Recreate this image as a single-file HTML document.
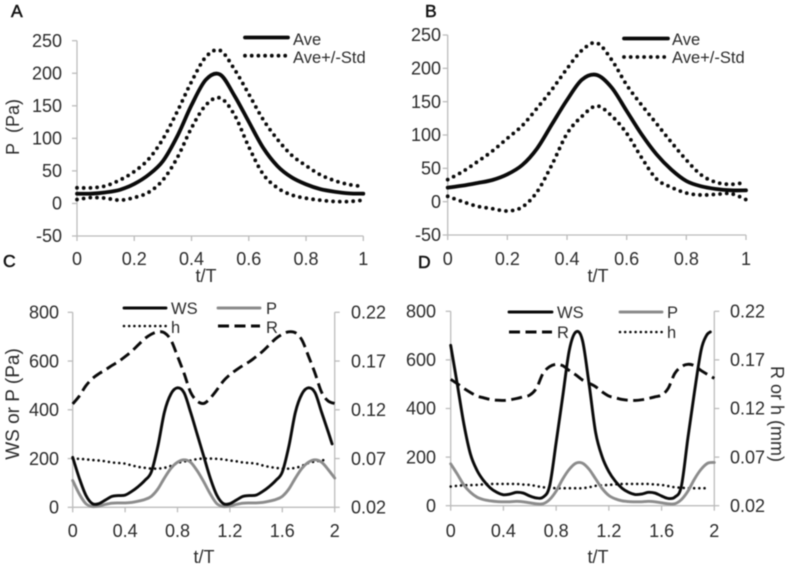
<!DOCTYPE html>
<html>
<head>
<meta charset="utf-8">
<title>Pressure, wall shear stress, radius and height over t/T</title>
<style>
html,body{margin:0;padding:0;background:#fff;width:789px;height:568px;overflow:hidden}
svg{display:block;filter:blur(0.45px)}
text{font-family:"Liberation Sans",sans-serif;fill:#2b2b2b}
</style>
</head>
<body>
<svg id="fig" xmlns="http://www.w3.org/2000/svg" width="789" height="568" viewBox="0 0 789 568"></svg>
<script>
const tOne=[0,0.05,0.1,0.15,0.2,0.25,0.3,0.35,0.4,0.45,0.5,0.55,0.6,0.65,0.7,0.75,0.8,0.85,0.9,0.95,1];
const tTwo=[0,0.05,0.1,0.15,0.2,0.25,0.3,0.35,0.4,0.45,0.5,0.55,0.6,0.65,0.7,0.75,0.8,0.85,0.9,0.95,1,1.05,1.1,1.15,1.2,1.25,1.3,1.35,1.4,1.45,1.5,1.55,1.6,1.65,1.7,1.75,1.8,1.85,1.9,1.95,2];
const tTwoWsC=[0,0.05,0.1,0.15,0.2,0.25,0.3,0.35,0.4,0.45,0.5,0.55,0.6,0.65,0.7,0.75,0.8,0.85,0.9,0.95,1,1.05,1.1,1.15,1.2,1.25,1.3,1.35,1.4,1.45,1.5,1.55,1.6,1.65,1.7,1.75,1.8,1.85,1.9,1.95,1.98];
const tTwoWsD=[0,0.05,0.1,0.15,0.2,0.25,0.3,0.35,0.4,0.45,0.5,0.55,0.6,0.65,0.7,0.75,0.8,0.85,0.9,0.95,1,1.05,1.1,1.15,1.2,1.25,1.3,1.35,1.4,1.45,1.5,1.55,1.6,1.65,1.7,1.75,1.8,1.85,1.9,1.94,1.97];

const aAve=[15,15,17,21,30,44,65,103,151,190,198,165.5,125.5,85.6,57.5,40,29.4,22,18,15.5,15];
const aUpper=[24,24,27,36,49,68,99,141,187,225,235,206,168,129,98.5,74,58,44,35,29,26];
const aLower=[6,9,8,5,9,17,36,70,116,151,162,136,87,45,24,13,8,5,3,3,5];

const bAve=[21,24,28,32.5,41,55,80,116.5,152.5,183,190,171,136,101,71,48,31,23,19,17,17];
const bUpper=[33,45,60,76,95,114,140.5,168.5,199.5,227,238,212.5,175,145,117,89,62.5,40,29,26,29];
const bLower=[8,0,-7,-10.5,-14,-8,15,56,102,128,143.5,128.5,102.5,66,34,21.5,13,10,11,12,3];

const cWs=[205,120,50,15,15,30,45,48,50,65,85,110,145,250,390,465,490,470,390,300,210,120,50,15,15,30,45,48,50,65,85,110,145,250,390,465,490,470,390,310,260];
const cP=[110,55,15,3,5,12,17,18,18,20,25,32,45,75,120,160,185,195,185,150,105,55,15,3,5,12,17,18,18,20,25,32,45,75,120,160,185,195,185,155,120];
const cH=[0.07,0.0697,0.0692,0.0685,0.068,0.0672,0.066,0.0655,0.0648,0.063,0.0615,0.0605,0.0597,0.0597,0.0605,0.0625,0.0655,0.067,0.068,0.0695,0.07,0.07,0.0697,0.0692,0.068,0.0672,0.066,0.0655,0.0648,0.063,0.0615,0.0605,0.0597,0.0597,0.0605,0.0625,0.0655,0.067,0.068,0.0695];
const cR=[0.126,0.134,0.1445,0.152,0.157,0.161,0.1655,0.1695,0.1745,0.18,0.1865,0.193,0.1975,0.2,0.199,0.1915,0.175,0.1575,0.138,0.129,0.1265,0.132,0.1403,0.1495,0.156,0.161,0.1655,0.1695,0.1745,0.18,0.1865,0.193,0.1975,0.2,0.199,0.1915,0.175,0.1575,0.138,0.129,0.1265];

const dWs=[660,500,336,212,145,103,73,55,45,48,55,52,40,32,35,80,260,450,640,715,680,500,300,200,140,100,72,55,46,48,55,52,40,30,35,80,280,470,640,700,715];
const dP=[172,130,85,55,35,25,20,17,16,16,18,16,12,8,8,25,60,110,150,175,175,150,110,70,42,28,20,17,16,16,18,16,12,8,8,25,60,110,150,175,178];
const dH=[0.0397,0.0405,0.041,0.0412,0.0414,0.042,0.0424,0.0424,0.0424,0.0424,0.0424,0.0418,0.0414,0.0402,0.039,0.0385,0.038,0.038,0.038,0.038,0.038,0.039,0.0405,0.041,0.0414,0.042,0.0424,0.0424,0.0424,0.0424,0.0424,0.0418,0.0414,0.0402,0.039,0.0385,0.038,0.038,0.038,0.038];
const dR=[0.15,0.1455,0.1407,0.1365,0.1328,0.131,0.1293,0.1285,0.1283,0.129,0.1303,0.132,0.1338,0.1407,0.156,0.163,0.1655,0.164,0.159,0.1545,0.1493,0.146,0.1424,0.137,0.1328,0.131,0.1293,0.1285,0.1283,0.129,0.1303,0.132,0.1338,0.1407,0.156,0.163,0.1655,0.164,0.159,0.155,0.151];

const xTicksOne=["0","0.2","0.4","0.6","0.8","1"];
const xTicksTwo=["0","0.4","0.8","1.2","1.6","2"];
const yTicksP=["-50","0","50","100","150","200","250"];
const yTicksWs=["0","200","400","600","800"];
const yTicksR=["0.02","0.07","0.12","0.17","0.22"];

const NS='http://www.w3.org/2000/svg';
const fig=document.getElementById('fig');
const AXIS='#bcbcbc',INK='#0a0a0a',GREY='#8c8c8c';

function mk(tag,attrs,parent){
  const e=document.createElementNS(NS,tag);
  for(const k in attrs)e.setAttribute(k,attrs[k]);
  (parent||fig).appendChild(e);
  return e;
}
function linear(d0,d1,r0,r1){return v=>r0+(v-d0)*(r1-r0)/(d1-d0);}
function smooth(xs,ys){
  let d='M'+xs[0].toFixed(2)+' '+ys[0].toFixed(2);
  for(let i=0;i<xs.length-1;i++){
    const p0=i>0?i-1:i,p3=i+2<xs.length?i+2:i+1;
    const c1x=xs[i]+(xs[i+1]-xs[p0])/6,c1y=ys[i]+(ys[i+1]-ys[p0])/6;
    const c2x=xs[i+1]-(xs[p3]-xs[i])/6,c2y=ys[i+1]-(ys[p3]-ys[i])/6;
    d+='C'+c1x.toFixed(2)+' '+c1y.toFixed(2)+' '+c2x.toFixed(2)+' '+c2y.toFixed(2)+' '+xs[i+1].toFixed(2)+' '+ys[i+1].toFixed(2);
  }
  return d;
}
const STYLES={
  thick:{stroke:INK,'stroke-width':3.8,fill:'none','stroke-linecap':'round','stroke-linejoin':'round'},
  dots:{stroke:INK,'stroke-width':3.8,fill:'none','stroke-linecap':'round','stroke-dasharray':'0 6.7'},
  solid:{stroke:INK,'stroke-width':2.9,fill:'none','stroke-linecap':'round','stroke-linejoin':'round'},
  grey:{stroke:GREY,'stroke-width':2.9,fill:'none','stroke-linecap':'round','stroke-linejoin':'round'},
  fine:{stroke:INK,'stroke-width':2.6,fill:'none','stroke-linecap':'round','stroke-dasharray':'0 5.2'},
  dash:{stroke:INK,'stroke-width':2.9,fill:'none','stroke-dasharray':'11 5.5'}
};
function series(g,ts,vals,sx,sy,style,name){
  const p=mk('path',Object.assign({d:smooth(ts.map(sx),vals.map(sy))},STYLES[style]),g);
  
  
}
function legendItem(g,x0,x1,y,tx,ty,style,label,name){
  const l=mk('line',Object.assign({x1:x0,x2:x1,y1:y,y2:y},STYLES[style]),g);
  
  
  const t=mk('text',{x:tx,y:ty,'font-size':16.5},g);
  t.textContent=label;
  
  
}
function panelLetter(x,y,s){
  const t=mk('text',{x:x,y:y,'font-size':17.5,'style':'fill:#111','stroke':'#111','stroke-width':0.5});
  t.textContent=s;
  
  
}
function frame(g,o){
  const L=o.left,R=o.right,T=o.top,B=o.bottom;
  const ya=mk('line',{x1:L,x2:L,y1:T,y2:B,stroke:AXIS,'stroke-width':1.3},g);
  
  
  const xa=mk('line',{x1:L,x2:R,y1:B,y2:B,stroke:AXIS,'stroke-width':1.3},g);
  
  
  o.xTicks.forEach((lab,i)=>{
    const x=L+(R-L)*i/(o.xTicks.length-1);
    const tk=mk('line',{x1:x,x2:x,y1:B,y2:B+5,stroke:AXIS,'stroke-width':1.3},g);
    
    
    const t=mk('text',{x:x,y:o.xLabelY,'font-size':18,'text-anchor':'middle'},g);
    t.textContent=lab;
    
    
  });
  o.yTicks.forEach((lab,i)=>{
    const y=B-(B-T)*i/(o.yTicks.length-1);
    const tk=mk('line',{x1:L-5,x2:L,y1:y,y2:y,stroke:AXIS,'stroke-width':1.3},g);
    
    
    const t=mk('text',{x:o.yLabelX,y:y+6.2,'font-size':18,'text-anchor':'end'},g);
    t.textContent=lab;
    
    
  });
  if(o.rTicks){
    const ra=mk('line',{x1:R,x2:R,y1:T,y2:B,stroke:AXIS,'stroke-width':1.3},g);
    
    
    o.rTicks.forEach((lab,i)=>{
      const y=B-(B-T)*i/(o.rTicks.length-1);
      const tk=mk('line',{x1:R,x2:R+5,y1:y,y2:y,stroke:AXIS,'stroke-width':1.3},g);
      
      
      const t=mk('text',{x:o.rLabelX,y:y+6.2,'font-size':18},g);
      t.textContent=lab;
      
      
    });
  }
  const xt=mk('text',{x:o.xTitleX,y:o.xTitleY,'font-size':18,'text-anchor':'middle'},g);
  xt.textContent='t/T';
  
  
}
function rotated(g,x,y,deg,s,name,size){
  const t=mk('text',{x:0,y:0,'font-size':size,'text-anchor':'middle',transform:'translate('+x+' '+y+') rotate('+deg+')'},g);
  t.textContent=s;
  
  
}

/* Panel A */
const gA=mk('g',{});


frame(gA,{left:77,right:363.3,top:40.7,bottom:236,xTicks:xTicksOne,yTicks:yTicksP,xLabelY:265,yLabelX:62,xTitleX:206,xTitleY:282});
rotated(gA,19,127,-90,'P\u00a0\u00a0(Pa)','y-axis-title',18);
const axA=linear(0,1,77,363.3),ayA=linear(-50,250,236,40.7);
series(gA,tOne,aAve,axA,ayA,'thick','series-ave');
series(gA,tOne,aUpper,axA,ayA,'dots','series-ave-plus-std');
series(gA,tOne,aLower,axA,ayA,'dots','series-ave-minus-std');
legendItem(gA,245,288,37.5,293,45,'thick','Ave','ave');
legendItem(gA,245,288,55.7,293,63,'dots','Ave+/-Std','ave-std');
panelLetter(11,17,'A');

/* Panel B */
const gB=mk('g',{});


frame(gB,{left:447.7,right:746,top:35,bottom:235,xTicks:xTicksOne,yTicks:yTicksP,xLabelY:265,yLabelX:441,xTitleX:598,xTitleY:282});
const axB=linear(0,1,447.7,746),ayB=linear(-50,250,235,35);
series(gB,tOne,bAve,axB,ayB,'thick','series-ave');
series(gB,tOne,bUpper,axB,ayB,'dots','series-ave-plus-std');
series(gB,tOne,bLower,axB,ayB,'dots','series-ave-minus-std');
legendItem(gB,624,668,38.5,672,45,'thick','Ave','ave');
legendItem(gB,624,668,57,672,63,'dots','Ave+/-Std','ave-std');
panelLetter(425,17,'B');

/* Panel C */
const gC=mk('g',{});


frame(gC,{left:72.7,right:334.7,top:312.3,bottom:507.3,xTicks:xTicksTwo,yTicks:yTicksWs,rTicks:yTicksR,xLabelY:537,yLabelX:59,rLabelX:351,xTitleX:204,xTitleY:563});
rotated(gC,19,404,-90,'WS or P (Pa)','y-axis-title',19);
const cx=linear(0,2,72.7,334.7),cy=linear(0,800,507.3,312.3),cyR=linear(0.02,0.22,507.3,312.3);
series(gC,tTwo,cR,cx,cyR,'dash','series-r');
series(gC,tTwo.slice(0,cH.length),cH,cx,cyR,'fine','series-h');
series(gC,tTwo,cP,cx,cy,'grey','series-p');
series(gC,tTwoWsC,cWs,cx,cy,'solid','series-ws');
legendItem(gC,124,166,308,171,314,'solid','WS','ws');
legendItem(gC,218,260,308,266,314,'grey','P','p');
legendItem(gC,124,166,326,171,333,'fine','h','h');
legendItem(gC,218,260,326,266,333,'dash','R','r');
panelLetter(3,267,'C');

/* Panel D */
const gD=mk('g',{});


frame(gD,{left:450.7,right:714.3,top:311.3,bottom:505.7,xTicks:xTicksTwo,yTicks:yTicksWs,rTicks:yTicksR,xLabelY:537,yLabelX:436,rLabelX:730,xTitleX:598,xTitleY:563});
rotated(gD,771,414,90,'R or h (mm)','right-axis-title',18);
const dx=linear(0,2,450.7,714.3),dy=linear(0,800,505.7,311.3),dyR=linear(0.02,0.22,505.7,311.3);
series(gD,tTwo,dR,dx,dyR,'dash','series-r');
series(gD,tTwo.slice(0,dH.length),dH,dx,dyR,'fine','series-h');
series(gD,tTwo,dP,dx,dy,'grey','series-p');
series(gD,tTwoWsD,dWs,dx,dy,'solid','series-ws');
legendItem(gD,509,552,312,557,318,'solid','WS','ws');
legendItem(gD,620,662,312,667,318,'grey','P','p');
legendItem(gD,509,552,332,557,338,'dash','R','r');
legendItem(gD,620,662,332,667,338,'fine','h','h');
panelLetter(418,268,'D');
</script>
</body>
</html>
